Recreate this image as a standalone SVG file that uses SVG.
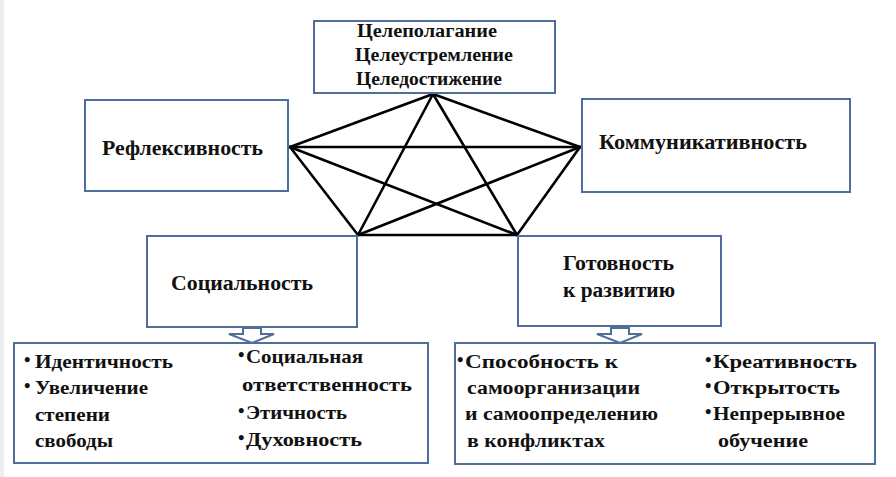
<svg xmlns="http://www.w3.org/2000/svg" width="896" height="477" viewBox="0 0 896 477">
<style>
.box{fill:#fff;stroke:#4f6e9c;stroke-width:2}
.ln{stroke:#000;stroke-width:2.6;stroke-linecap:round}
.arr{fill:#fff;stroke:#4f6e9c;stroke-width:2;stroke-linejoin:miter}
</style>
<rect x="0" y="0" width="896" height="477" fill="#fff"/>
<rect x="0" y="0" width="4" height="477" fill="#eceef1"/>
<g id="connectors">
<line class="ln" x1="433" y1="94" x2="290" y2="147"/>
<line class="ln" x1="433" y1="94" x2="580" y2="147"/>
<line class="ln" x1="433" y1="94" x2="358" y2="235"/>
<line class="ln" x1="433" y1="94" x2="517" y2="235"/>
<line class="ln" x1="290" y1="147" x2="580" y2="147"/>
<line class="ln" x1="290" y1="147" x2="358" y2="235"/>
<line class="ln" x1="290" y1="147" x2="517" y2="235"/>
<line class="ln" x1="580" y1="147" x2="358" y2="235"/>
<line class="ln" x1="580" y1="147" x2="517" y2="235"/>
<line class="ln" x1="358" y1="235" x2="517" y2="235"/>
</g>
<g font-family="Liberation Serif, Times New Roman, DejaVu Serif, serif" font-weight="bold" fill="#111" font-size="18.5">
<g id="node-goal">
<rect class="box" x="314" y="21" width="241" height="72"/>
<text font-size="18" x="357" y="37" textLength="140" lengthAdjust="spacingAndGlyphs">Целеполагание</text>
<text font-size="18" x="355" y="61" textLength="158" lengthAdjust="spacingAndGlyphs">Целеустремление</text>
<text font-size="18" x="356" y="85" textLength="146" lengthAdjust="spacingAndGlyphs">Целедостижение</text>
</g>
<g id="node-reflex">
<rect class="box" x="85" y="100" width="203" height="91"/>
<text font-size="20" x="102" y="155" textLength="161" lengthAdjust="spacingAndGlyphs">Рефлексивность</text>
</g>
<g id="node-comm">
<rect class="box" x="582" y="99" width="268" height="93"/>
<text font-size="20" x="599" y="149" textLength="208" lengthAdjust="spacingAndGlyphs">Коммуникативность</text>
</g>
<g id="node-social">
<rect class="box" x="147" y="236" width="210" height="91"/>
<text font-size="20" x="171" y="290" textLength="142" lengthAdjust="spacingAndGlyphs">Социальность</text>
</g>
<g id="node-ready">
<rect class="box" x="518" y="236" width="203" height="90"/>
<text font-size="20" x="563" y="270" textLength="111" lengthAdjust="spacingAndGlyphs">Готовность</text>
<text font-size="20" x="563" y="297" textLength="112" lengthAdjust="spacingAndGlyphs">к развитию</text>
</g>
<g id="arrow-social">
<path class="arr" d="M243,328 H261 V334 H274 L252,343 L229,334 H243 Z"/>
</g>
<g id="arrow-ready">
<path class="arr" d="M611,328 H629 V334 H642 L620,343 L597,334 H611 Z"/>
</g>
<g id="node-social-list">
<rect class="box" x="14" y="343" width="414" height="120"/>
<text x="24" y="366">•</text>
<text x="35" y="368" textLength="138" lengthAdjust="spacingAndGlyphs">Идентичность</text>
<text x="24" y="392">•</text>
<text x="35" y="394" textLength="113" lengthAdjust="spacingAndGlyphs">Увеличение</text>
<text x="35" y="421" textLength="75" lengthAdjust="spacingAndGlyphs">степени</text>
<text x="35" y="447" textLength="78" lengthAdjust="spacingAndGlyphs">свободы</text>
<text x="238" y="361">•</text>
<text x="246" y="363" textLength="117" lengthAdjust="spacingAndGlyphs">Социальная</text>
<text x="242" y="391" textLength="170" lengthAdjust="spacingAndGlyphs">ответственность</text>
<text x="238" y="417">•</text>
<text x="246" y="419" textLength="101" lengthAdjust="spacingAndGlyphs">Этичность</text>
<text x="238" y="444">•</text>
<text x="246" y="446" textLength="116" lengthAdjust="spacingAndGlyphs">Духовность</text>
</g>
<g id="node-ready-list">
<rect class="box" x="455" y="343" width="420" height="121"/>
<text x="457" y="366">•</text>
<text x="465" y="368" textLength="153" lengthAdjust="spacingAndGlyphs">Способность  к</text>
<text x="467" y="394" textLength="173" lengthAdjust="spacingAndGlyphs">самоорганизации</text>
<text x="465" y="420" textLength="193" lengthAdjust="spacingAndGlyphs">и самоопределению</text>
<text x="467" y="447" textLength="138" lengthAdjust="spacingAndGlyphs">в конфликтах</text>
<text x="705" y="366">•</text>
<text x="713" y="368" textLength="144" lengthAdjust="spacingAndGlyphs">Креативность</text>
<text x="705" y="392">•</text>
<text x="713" y="394" textLength="127" lengthAdjust="spacingAndGlyphs">Открытость</text>
<text x="705" y="418">•</text>
<text x="713" y="420" textLength="132" lengthAdjust="spacingAndGlyphs">Непрерывное</text>
<text x="718" y="447" textLength="90" lengthAdjust="spacingAndGlyphs">обучение</text>
</g>
</g>
</svg>
